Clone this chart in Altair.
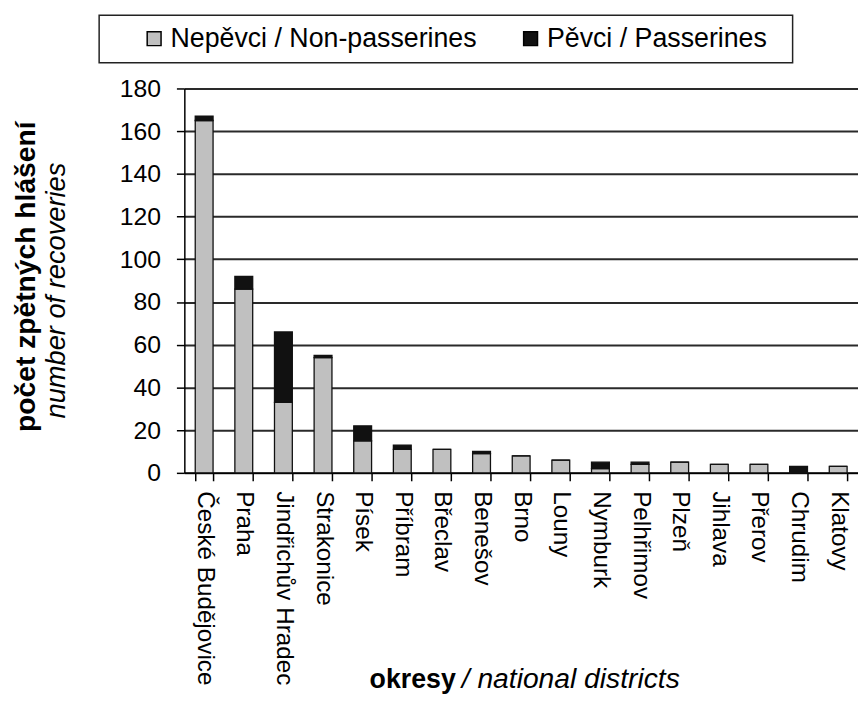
import altair as alt
import pandas as pd

districts = ["České Budějovice", "Praha", "Jindřichův Hradec", "Strakonice", "Písek",
             "Příbram", "Břeclav", "Benešov", "Brno", "Louny", "Nymburk", "Pelhřimov",
             "Plzeň", "Jihlava", "Přerov", "Chrudim", "Klatovy"]
non_passerines = [165, 86, 33, 54, 15, 11, 11, 9, 8, 6, 2, 4, 5, 4, 4, 0, 3]
passerines = [2, 6, 33, 1, 7, 2, 0, 1, 0, 0, 3, 1, 0, 0, 0, 3, 0]
series = ["Nepěvci / Non-passerines", "Pěvci / Passerines"]
y_ticks = [0, 20, 40, 60, 80, 100, 120, 140, 160, 180]

FONT = "Liberation Sans"

rows = []
for d, a, b in zip(districts, non_passerines, passerines):
    rows.append({"district": d, "series": series[0], "value": a, "ord": 0})
    rows.append({"district": d, "series": series[1], "value": b, "ord": 1})
df = pd.DataFrame(rows)
one = pd.DataFrame({"k": [0]})

bars = alt.Chart(df).mark_bar(stroke="#111111", strokeWidth=1.3).encode(
    x=alt.X("district:N", sort=districts,
            scale=alt.Scale(paddingInner=0.55, paddingOuter=0.275),
            axis=alt.Axis(title=None, labelAngle=90, labelAlign="left", labelBaseline="middle",
                          labelFontSize=24.5, labelFont=FONT, labelColor="black",
                          tickBand="extent", tickSize=8, tickColor="black", tickWidth=1.5,
                          domainColor="black", domainWidth=1.5, labelPadding=10,
                          labelLimit=0)),
    y=alt.Y("value:Q", stack="zero", scale=alt.Scale(domain=[0, 180], nice=False),
            axis=alt.Axis(title=None, values=y_ticks, grid=True, gridColor="#2a2a2a",
                          gridWidth=2, tickSize=8, tickColor="black", tickWidth=1.5,
                          domainColor="black", domainWidth=1.5, labelPadding=16,
                          labelFontSize=25, labelFont=FONT, labelColor="black")),
    color=alt.Color("series:N", scale=alt.Scale(domain=series, range=["#c0c0c0", "#111111"]),
                    legend=alt.Legend(title=None, orient="none", legendX=-44, legendY=-64,
                                      direction="horizontal", symbolType="square",
                                      symbolSize=196, symbolStrokeColor="black",
                                      symbolStrokeWidth=1.5, labelFontSize=27,
                                      labelFont=FONT, labelColor="black", columnPadding=40,
                                      labelOffset=3, padding=0, labelLimit=0)),
    order=alt.Order("ord:Q"),
)

legend_box = alt.Chart(one).mark_rect(fill="white", fillOpacity=0, stroke="#222222",
                                      strokeWidth=1.5).encode(
    x=alt.value(-86), x2=alt.value(614), y=alt.value(-74), y2=alt.value(-26))

ytitle_bold = alt.Chart(one).mark_text(text="počet zpětných hlášení", angle=270,
                                       fontWeight="bold", fontSize=28.5, font=FONT,
                                       align="center", baseline="alphabetic",
                                       color="black").encode(
    x=alt.value(-151), y=alt.value(190))
ytitle_it = alt.Chart(one).mark_text(text="number of recoveries", angle=270,
                                     fontStyle="italic", fontSize=27.5, font=FONT,
                                     align="center", baseline="alphabetic",
                                     color="black").encode(
    x=alt.value(-120), y=alt.value(204))
xtitle_bold = alt.Chart(one).mark_text(text="okresy", fontWeight="bold", fontSize=27,
                                       font=FONT, align="left", baseline="alphabetic",
                                       color="black").encode(
    x=alt.value(187), y=alt.value(605))
xtitle_it = alt.Chart(one).mark_text(text="/ national districts", fontStyle="italic",
                                     fontSize=28.5, font=FONT, align="left",
                                     baseline="alphabetic", color="black").encode(
    x=alt.value(280), y=alt.value(605))

chart = alt.layer(legend_box, bars, ytitle_bold, ytitle_it, xtitle_bold, xtitle_it).properties(
    width=680, height=388,
    autosize=alt.AutoSizeParams(type="none"),
    padding={"left": 178, "top": 78, "right": 0, "bottom": 220},
    background="white",
).configure_view(stroke=None)

chart.save("out.html", embed_options={"renderer": "svg", "actions": False})
